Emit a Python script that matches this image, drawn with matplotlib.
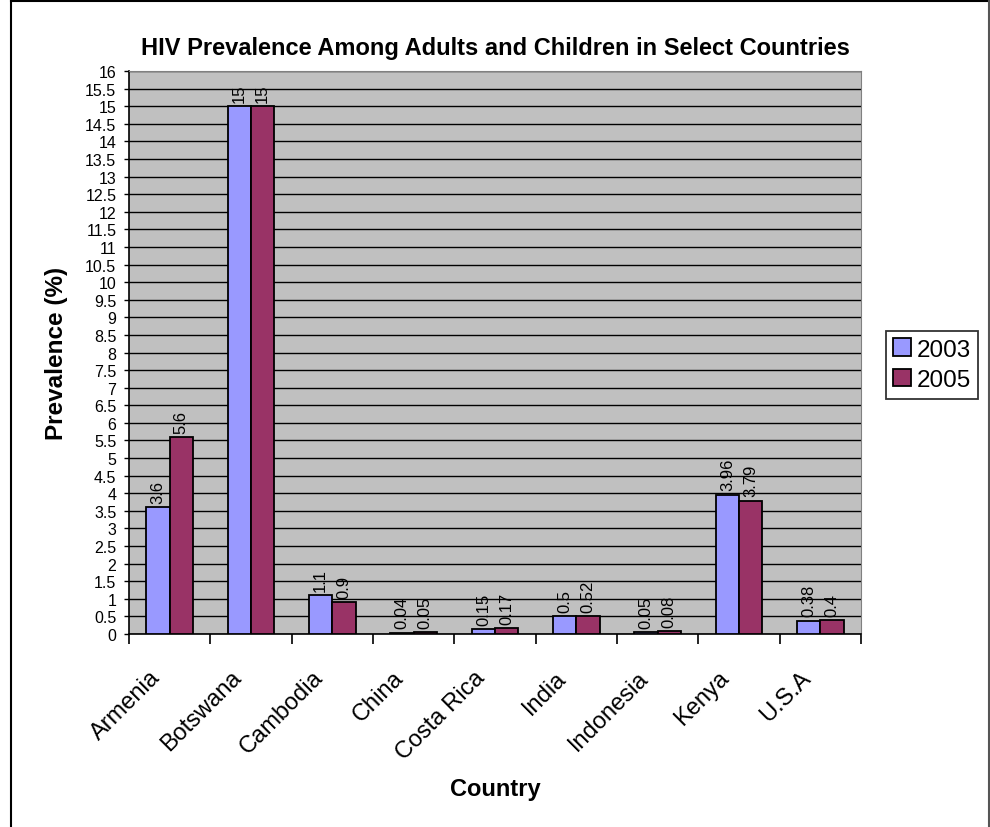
import matplotlib.pyplot as plt
from matplotlib.lines import Line2D
from matplotlib.transforms import ScaledTranslation
import numpy as np

plt.rcParams['font.family'] = ['Liberation Sans', 'DejaVu Sans']

countries = ['Armenia', 'Botswana', 'Cambodia', 'China', 'Costa Rica',
             'India', 'Indonesia', 'Kenya', 'U.S.A']
years = ['2003', '2005']
prev_2003 = [3.6, 15, 1.1, 0.04, 0.15, 0.5, 0.05, 3.96, 0.38]
prev_2005 = [5.6, 15, 0.9, 0.05, 0.17, 0.52, 0.08, 3.79, 0.4]
colors = ['#9999FF', '#993366']

fig = plt.figure(figsize=(9.9, 8.28), dpi=100)
ax = fig.add_axes([0.1303, 0.2331, 0.7394, 0.6799])
ax.set_facecolor('#C0C0C0')

x = np.arange(len(countries))
w = 1 / 3.5
for i, (vals, yr) in enumerate(zip([prev_2003, prev_2005], years)):
    pos = x - w / 2 + i * w
    bars = ax.bar(pos, vals, w, color=colors[i], edgecolor='black',
                  linewidth=1.3, label=yr, zorder=3)
    for b, v in zip(bars, vals):
        ax.annotate(f'{v:g}', (b.get_x() + b.get_width() / 2, v),
                    xytext=(0, 3), textcoords='offset points',
                    rotation=90, ha='center', va='bottom', fontsize=12)

ax.set_xlim(-0.5, len(countries) - 0.5)
ax.set_ylim(0, 16)
yt = np.arange(0, 16.01, 0.5)
ax.set_yticks(yt)
ax.set_yticklabels([f'{v:g}' for v in yt], fontsize=11.5)
ax.yaxis.grid(True, color='black', linewidth=1)
ax.set_axisbelow(True)

# category boundaries as ticks, names drawn slanted under each group
ax.set_xticks(np.arange(len(countries) + 1) - 0.5)
ax.set_xticklabels([])
ax.tick_params(axis='x', length=7, width=1.2, direction='out')
ax.tick_params(axis='y', length=3.6, width=1, direction='out', pad=5.5)
lab_tr = ax.get_xaxis_transform() + ScaledTranslation(-0.13, -0.40, fig.dpi_scale_trans)
for xi, name in zip(x, countries):
    ax.text(xi, 0, name, transform=lab_tr, rotation=45, ha='right', va='center',
            rotation_mode='anchor', fontsize=17)

for side in ['top', 'right']:
    ax.spines[side].set_color('#808080')
ax.spines['left'].set_linewidth(1.2)
ax.spines['bottom'].set_linewidth(1.2)

ax.set_title('HIV Prevalence Among Adults and Children in Select Countries',
             fontsize=17, fontweight='bold', pad=12)
ax.set_ylabel('Prevalence (%)', fontsize=17.5, fontweight='bold', labelpad=12)
fig.text(0.5, 1 - 790 / 828, 'Country', fontsize=17, fontweight='bold',
         ha='center', va='center')

leg = ax.legend(loc='center left', bbox_to_anchor=(1.034, 0.478), fontsize=17.5,
                frameon=True, fancybox=False, edgecolor='black',
                handlelength=0.72, handleheight=0.72, handletextpad=0.25,
                borderpad=0.3, labelspacing=0.35, borderaxespad=0)
leg.get_frame().set_linewidth(1.3)

# outer chart border
fig.add_artist(Line2D([11 / 990, 11 / 990], [0, 1 - 2 / 828], color='black', lw=1.5))
fig.add_artist(Line2D([11 / 990, 989 / 990], [1 - 2 / 828, 1 - 2 / 828], color='black', lw=1.5))
fig.add_artist(Line2D([989 / 990, 989 / 990], [0, 1 - 2 / 828], color='#555555', lw=1.5))

fig.savefig('out.png', dpi=100)
